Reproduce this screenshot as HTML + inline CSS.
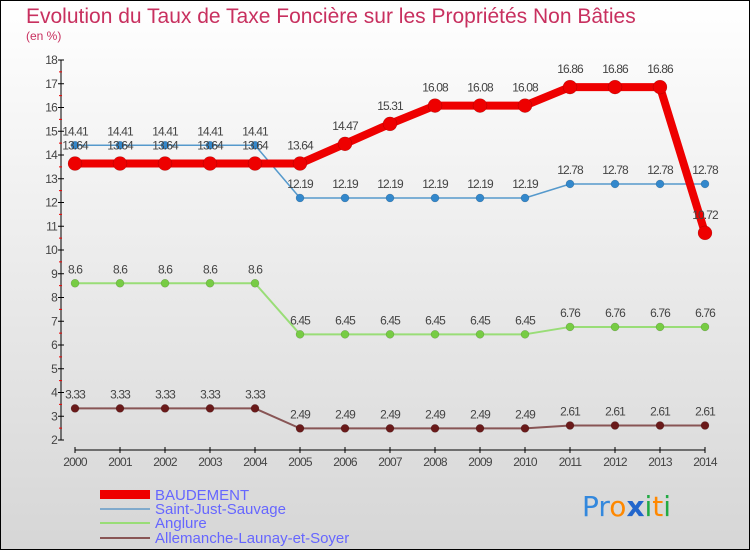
<!DOCTYPE html>
<html><head><meta charset="utf-8"><style>
body{margin:0;width:750px;height:550px;overflow:hidden}
svg{display:block;font-family:"Liberation Sans",sans-serif}
</style></head><body>
<svg id="c" width="750" height="550">
<defs><linearGradient id="bg" x1="0" y1="0" x2="0" y2="1"><stop offset="0" stop-color="#ffffff"/><stop offset="1" stop-color="#d6d6d6"/></linearGradient></defs>
<rect x="0.5" y="0.5" width="749" height="549" fill="url(#bg)" stroke="#000"/>
<text x="26" y="23" font-size="21" fill="#c8305f">Evolution du Taux de Taxe Foncière sur les Propriétés Non Bâties</text>
<text x="26" y="40" font-size="12" fill="#c8305f">(en %)</text>
<g id="axes"></g><g id="series"></g>
<g>
<rect x="100" y="490" width="50" height="9" fill="#ee0000"/>
<text x="155" y="500" font-size="15" fill="#6666ff">BAUDEMENT</text>
<rect x="100" y="508" width="50" height="2" fill="#80aacc"/>
<text x="155" y="514" font-size="15" fill="#6666ff">Saint-Just-Sauvage</text>
<rect x="100" y="522" width="50" height="2" fill="#99dd77"/>
<text x="155" y="528" font-size="15" fill="#6666ff">Anglure</text>
<rect x="100" y="537" width="50" height="2" fill="#885555"/>
<text x="155" y="543" font-size="15" fill="#6666ff">Allemanche-Launay-et-Soyer</text>
</g>
<g font-size="28" font-family="DejaVu Sans,sans-serif">
<text x="582" y="516"><tspan fill="#3388dd">Pr</tspan><tspan fill="#ff8800">o</tspan><tspan fill="#2266cc" font-weight="bold">x</tspan><tspan fill="#22aa44">i</tspan><tspan fill="#ff8800">t</tspan><tspan fill="#22aa44">i</tspan></text>
</g>
</svg>
<script>
const years=[2000,2001,2002,2003,2004,2005,2006,2007,2008,2009,2010,2011,2012,2013,2014];
const baudement=[13.64,13.64,13.64,13.64,13.64,13.64,14.47,15.31,16.08,16.08,16.08,16.86,16.86,16.86,10.72];
const saintJust=[14.41,14.41,14.41,14.41,14.41,12.19,12.19,12.19,12.19,12.19,12.19,12.78,12.78,12.78,12.78];
const anglure=[8.6,8.6,8.6,8.6,8.6,6.45,6.45,6.45,6.45,6.45,6.45,6.76,6.76,6.76,6.76];
const allemanche=[3.33,3.33,3.33,3.33,3.33,2.49,2.49,2.49,2.49,2.49,2.49,2.61,2.61,2.61,2.61];
const yTicks=[2,3,4,5,6,7,8,9,10,11,12,13,14,15,16,17,18];
const NS="http://www.w3.org/2000/svg";
const xS=i=>75+i*45;
const yS=v=>440-(v-2)*23.75;
function mk(t,a,p){const e=document.createElementNS(NS,t);for(const k in a)e.setAttribute(k,a[k]);p.appendChild(e);return e;}
const ax=document.getElementById('axes');
let e=mk('line',{x1:61,y1:60,x2:61,y2:440,stroke:'#000'},ax);


yTicks.forEach(v=>{const y=yS(v);
mk('line',{x1:58,y1:y,x2:64,y2:y,stroke:'#000'},ax);
if(v<18)mk('line',{x1:59,y1:y-11.875,x2:62,y2:y-11.875,stroke:'#e00'},ax);
const t=mk('text',{x:57,y:y+4,'font-size':12,fill:'#444','text-anchor':'end','letter-spacing':'-0.8'},ax);t.textContent=v;

});
e=mk('line',{x1:75,y1:450,x2:705,y2:450,stroke:'#000'},ax);


years.forEach((yr,i)=>{const x=xS(i);mk('line',{x1:x,y1:447,x2:x,y2:453,stroke:'#000'},ax);
const t=mk('text',{x:x,y:466,'font-size':12,fill:'#444','text-anchor':'middle','letter-spacing':'-0.8'},ax);t.textContent=yr;

});
const sg=document.getElementById('series');
function series(vals,name,col,w,r,dot,off){
const g=mk('g',{},sg);


mk('polyline',{points:vals.map((v,i)=>xS(i)+','+yS(v)).join(' '),fill:'none',stroke:col,'stroke-width':w,'stroke-linejoin':'round'},g);
vals.forEach((v,i)=>{const c=mk('circle',{cx:xS(i),cy:yS(v),r:r,fill:dot,stroke:'rgba(0,0,0,0.25)','stroke-width':0.5},g);


const t=mk('text',{x:xS(i),y:yS(v)-off,'font-size':12,fill:'#444','text-anchor':'middle','letter-spacing':'-0.9'},g);t.textContent=v;

});}
series(allemanche,'allemanche','#885555',2,4,'#6a1a1a',10);
series(anglure,'anglure','#99dd77',2,4,'#77cc44',10);
series(saintJust,'saint-just','#5599cc',1.5,4,'#3388cc',10);
series(baudement,'baudement','#ee0000',8,7,'#ee0000',14);
</script>
</body></html>
